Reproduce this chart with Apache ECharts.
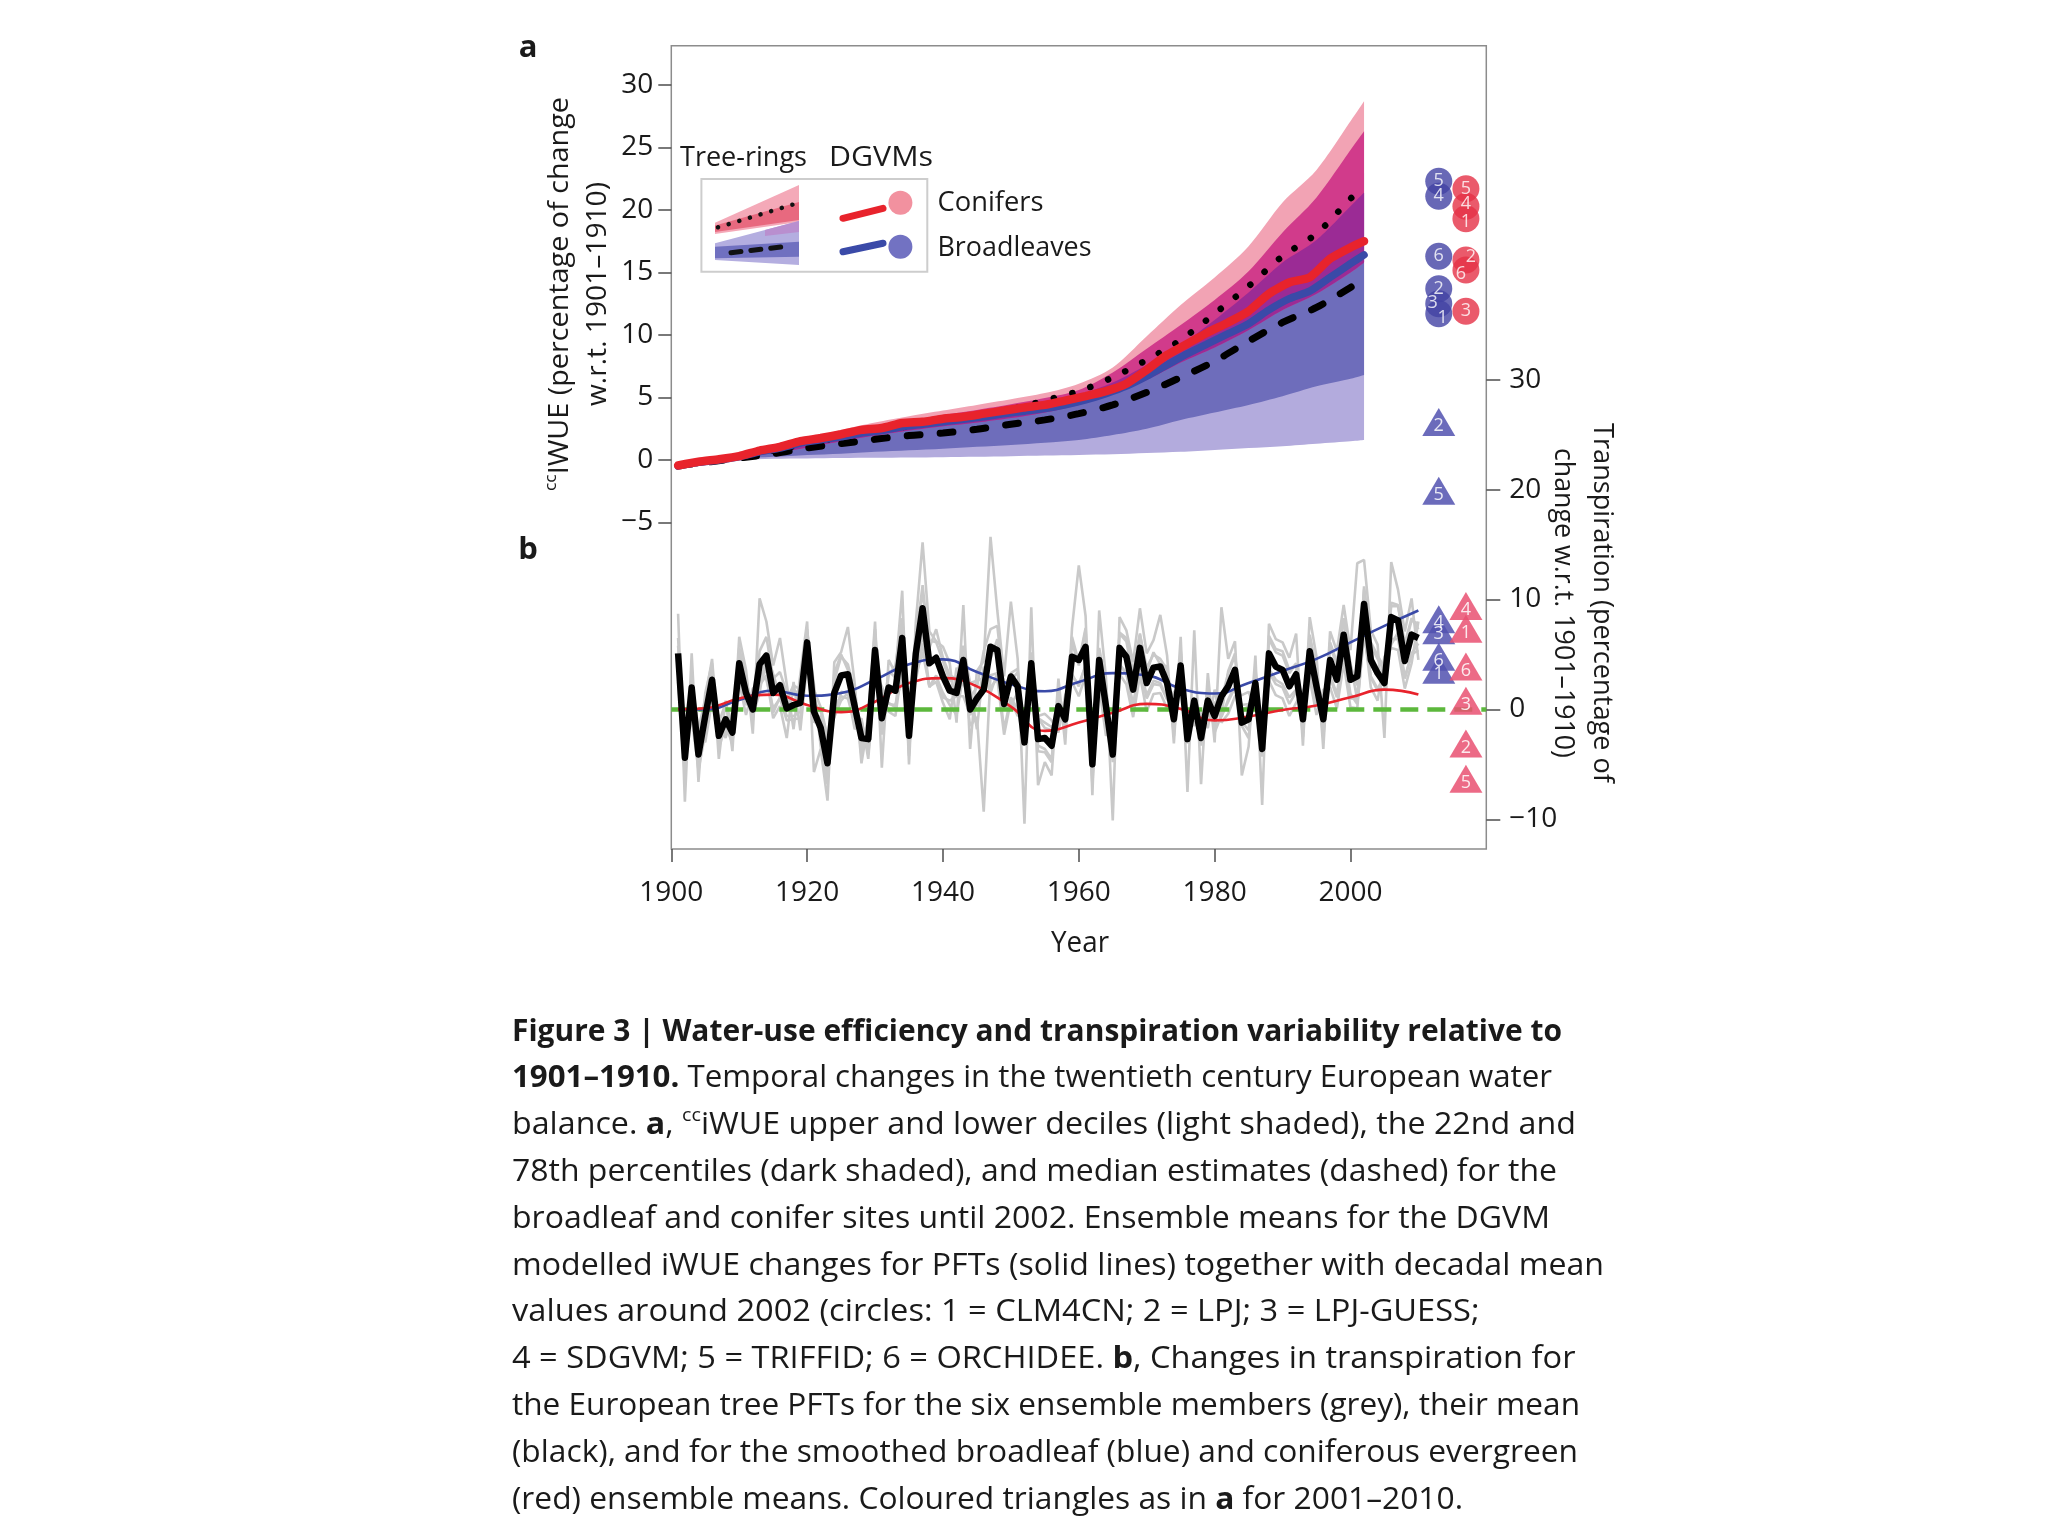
<!DOCTYPE html>
<html>
<head>
<meta charset="utf-8">
<title>Figure 3</title>
<script src="https://cdn.jsdelivr.net/npm/echarts@6.0.0/dist/echarts.min.js"></script>
<style>
html,body{margin:0;padding:0;background:#ffffff;}
#chart{width:2048px;height:1536px;}
</style>
</head>
<body>
<div id="chart"></div>
<script>
// ================= DATA =================
// Panel a: tree-ring ccIWUE percentiles (percentage change w.r.t. 1901-1910)
const bandYears  = [1901,1905,1910,1915,1920,1925,1930,1935,1940,1945,1950,1955,1960,1965,1970,1975,1980,1985,1990,1995,2000,2002];
const coniferP90 = [-0.45,-0.1,0.3,0.9,1.6,2.4,3.0,3.5,3.95,4.4,4.85,5.35,6.1,7.4,9.9,12.4,14.6,17.1,20.6,23.2,27.1,28.7];
const coniferP78 = [-0.45,-0.15,0.25,0.8,1.4,2.15,2.65,3.15,3.6,4.0,4.45,4.95,5.6,7.0,8.9,10.8,12.8,15.1,18.2,21.0,24.8,26.3];
const coniferP50 = [-0.45,-0.15,0.25,0.75,1.3,1.85,2.3,2.7,3.1,3.5,4.05,4.75,5.5,6.6,8.0,9.6,11.7,13.9,16.3,18.1,20.9,21.9];
const coniferP22 = [-0.45,-0.2,0.15,0.55,1.0,1.5,1.95,2.35,2.7,3.0,3.35,3.8,4.4,5.3,6.4,7.8,9.0,10.4,12.0,13.3,15.0,15.8];
const coniferP10 = [-0.45,-0.1,0.12,0.4,0.7,1.0,1.3,1.55,1.8,2.0,2.3,2.6,3.0,3.6,4.4,5.4,6.3,7.3,8.5,9.5,10.8,11.3];
const broadP90   = [-0.45,-0.16,0.22,0.75,1.3,1.8,2.25,2.7,3.1,3.5,3.95,4.5,5.2,6.3,7.9,9.6,11.5,13.7,16.2,18.5,21.9,23.0];
const broadP78   = [-0.45,-0.15,0.22,0.7,1.22,1.72,2.18,2.58,2.95,3.35,3.85,4.5,5.2,6.2,7.6,9.2,11.2,13.4,15.8,17.6,20.3,21.4];
const broadP50   = [-0.45,-0.2,0.15,0.5,0.95,1.3,1.65,1.95,2.15,2.45,2.85,3.2,3.7,4.4,5.4,6.6,7.9,9.5,11.0,12.2,13.8,14.5];
const broadP22   = [-0.45,-0.15,0.1,0.25,0.4,0.5,0.65,0.78,0.9,1.05,1.2,1.38,1.6,2.0,2.5,3.2,3.8,4.4,5.1,5.9,6.5,6.8];
const broadP10   = [-0.45,-0.2,0.0,0.1,0.12,0.15,0.17,0.2,0.22,0.25,0.3,0.35,0.4,0.45,0.55,0.65,0.8,0.95,1.1,1.3,1.5,1.6];

// Panel a: DGVM ensemble means
const dgvmYears   = [1901,1904,1907,1910,1913,1916,1919,1922,1925,1928,1931,1934,1937,1940,1943,1946,1949,1952,1955,1958,1961,1964,1967,1970,1973,1976,1979,1982,1985,1988,1991,1994,1997,2000,2002];
const dgvmConifer = [-0.45,-0.15,0.05,0.3,0.75,1.05,1.5,1.75,2.05,2.4,2.55,2.95,3.05,3.3,3.45,3.7,3.95,4.2,4.4,4.75,5.1,5.5,6.1,7.2,8.4,9.3,10.2,11.0,11.9,13.3,14.2,14.6,16.1,17.0,17.5];
const dgvmBroad   = [-0.5,-0.2,0.0,0.25,0.65,0.95,1.35,1.6,1.85,2.15,2.35,2.65,2.85,3.05,3.25,3.45,3.7,3.9,4.1,4.4,4.8,5.3,5.9,6.7,7.6,8.5,9.3,10.1,10.9,12.0,12.9,13.5,14.6,15.7,16.4];

// Panel a: decadal mean DGVM iWUE around 2002 (circles)
const circleBroadIds   = ['5','4','6','2','3','1'];
const circleBroad      = [22.3,21.1,16.3,13.7,12.5,11.7];
const circleConiferIds = ['5','4','1','2','6','3'];
const circleConifer    = [21.7,20.3,19.3,16.0,15.2,11.9];

// Panel b: transpiration (percentage change w.r.t. 1901-1910)
const transYears = Array.from({length: 110}, (_, i) => 1901 + i);
const transMean = [5.1,-4.4,2.0,-4.1,-0.6,2.7,-2.4,-0.9,-2.1,4.2,
  1.5,0.0,4.1,4.9,1.5,2.2,0.1,0.4,0.6,6.1,
  -0.2,-1.7,-4.9,1.5,3.1,3.2,0.3,-2.6,-2.7,5.4,
  -0.8,2.0,1.7,6.5,-2.4,5.1,9.2,4.2,4.7,3.0,
  1.7,1.5,4.5,0.0,1.0,1.8,5.7,5.4,0.5,3.0,
  2.1,-3.0,4.2,-2.7,-2.6,-3.3,0.3,-0.9,4.8,4.5,
  5.7,-5.0,4.5,0.3,-4.1,5.6,4.8,1.8,5.6,2.4,
  3.8,3.9,2.4,-0.9,4.0,-2.7,0.8,-2.6,0.8,-0.6,
  1.2,2.1,3.6,-1.2,-0.9,2.4,-3.6,5.1,3.9,3.6,
  2.1,3.2,-0.9,5.3,2.1,-0.9,4.5,2.7,6.8,2.7,
  3.0,9.6,4.5,3.3,2.4,8.4,8.1,4.4,6.8,6.5];
const member1 = [8.7,-8.4,5.1,-6.6,1.5,4.2,-4.5,0.8,-3.8,6.6,
  3.6,-2.2,10.1,8.0,4.0,6.5,2.3,-1.8,3.2,8.0,
  -5.7,-3.6,-8.3,4.3,5.2,7.5,2.4,-4.9,-1.1,8.0,
  -5.3,4.5,3.3,10.8,-5.0,7.9,15.2,7.1,6.2,5.7,
  4.2,-1.2,9.5,-3.6,3.5,4.4,15.7,9.0,3.0,9.8,
  4.6,-10.4,9.3,-6.9,-4.8,-6.0,2.8,-3.2,7.4,13.1,
  8.5,-7.8,9.0,2.9,-10.1,8.4,7.2,4.3,9.2,5.1,
  6.3,8.6,4.9,-3.1,6.6,-7.5,7.2,-6.8,3.3,-3.0,
  9.3,4.6,6.2,-6.0,-3.4,4.9,-8.7,7.8,6.4,6.1,
  4.7,6.9,-3.3,8.4,4.8,-3.6,7.1,5.3,9.5,5.4,
  13.3,13.6,7.2,5.9,-2.6,13.4,10.9,7.1,10.1,4.5];
const member2 = [3.2,-1.5,0.5,-2.0,-3.0,0.8,-0.6,-2.6,-0.2,2.5,
  -0.5,1.9,2.2,3.1,-0.8,0.3,-2.6,2.5,-1.9,4.2,
  1.8,0.2,-2.5,-0.7,1.6,1.5,-1.8,-0.8,-4.5,3.1,
  1.4,-0.2,-0.6,4.0,-0.2,2.6,6.0,2.1,2.5,0.6,
  -0.9,3.8,2.2,2.1,-1.8,3.9,2.0,2.8,-2.3,0.8,
  -0.6,-0.2,1.8,-0.6,-0.4,-1.0,-2.1,1.3,2.5,1.2,
  3.1,-2.3,2.1,-2.4,-1.3,3.2,2.3,-0.7,3.1,-0.2,
  1.4,1.5,0.1,1.6,1.9,-0.4,-1.5,-0.3,-1.7,1.8,
  -1.2,-0.4,1.2,1.3,1.6,0.0,-1.0,2.6,1.3,1.0,
  -0.6,0.6,1.7,2.8,-0.5,1.8,2.0,0.1,4.2,0.2,
  0.1,7.1,2.0,0.8,4.8,5.6,5.4,1.9,4.2,8.0];
const member3 = [6.5,-5.2,3.0,-4.8,0.4,3.9,-3.5,-1.5,-3.1,5.1,
  2.2,-1.0,5.3,6.6,2.8,3.4,1.5,1.3,1.9,7.3,
  0.9,-2.8,-6.1,2.6,4.8,4.1,1.7,-3.4,-2.0,6.7,
  -1.6,3.5,2.9,7.8,-3.9,6.3,11.3,5.6,7.3,4.7,
  3.1,2.8,5.1,1.1,2.0,5.3,7.3,7.6,1.9,3.3,
  3.7,-2.5,5.2,-3.3,-3.6,-4.5,1.4,-1.8,6.1,4.0,
  7.2,-6.4,5.3,1.5,-4.2,6.9,6.2,3.0,6.8,3.8,
  5.0,4.6,3.6,-1.8,5.2,-3.0,1.0,-3.3,2.0,-1.5,
  0.9,3.3,4.9,-1.1,-1.9,3.8,-4.1,6.4,5.2,4.9,
  3.3,4.2,-1.7,6.6,3.4,-1.9,5.8,4.0,8.1,4.0,
  2.2,10.9,5.8,4.6,3.5,9.4,9.4,5.7,8.1,7.8];
const member4 = [4.0,-3.0,-0.8,-5.5,-2.2,1.5,-1.2,0.6,-1.5,3.0,
  0.4,1.2,3.4,2.7,0.1,1.0,-1.0,-0.9,-0.8,5.0,
  -1.2,-0.6,-3.2,0.2,1.2,1.0,-1.3,-1.0,-3.9,4.0,
  0.9,0.6,0.2,5.2,-1.1,3.5,7.0,2.0,3.0,1.5,
  0.4,-0.5,3.2,-1.5,-0.7,-9.3,3.1,3.3,-1.8,1.1,
  0.0,-1.6,2.3,-0.8,-1.7,-1.9,-1.5,0.6,3.2,2.1,
  4.0,-3.7,2.4,-1.1,-2.5,4.1,3.3,0.5,3.8,1.0,
  2.3,2.2,0.9,0.5,2.4,-1.4,-1.2,-1.0,-0.6,0.7,
  -0.6,0.7,2.0,0.4,0.5,0.8,-2.1,3.4,2.3,2.0,
  0.5,1.6,0.4,3.6,0.5,0.7,2.9,1.1,5.1,1.0,
  1.0,8.0,2.9,1.7,1.9,6.4,6.4,2.8,5.0,5.4];
const member5 = [2.5,-6.0,2.6,-1.8,1.0,4.6,-2.9,-2.0,-2.5,5.6,
  2.9,-0.6,1.5,5.2,3.2,1.2,0.9,2.2,1.8,7.0,
  2.3,-3.4,-6.8,3.3,5.0,3.6,1.6,-4.2,-0.6,7.3,
  -2.3,3.1,4.0,8.3,-4.2,7.2,10.5,6.3,6.1,4.4,
  2.6,2.9,5.8,2.4,2.6,2.9,4.6,6.4,2.1,2.6,
  3.4,-2.1,4.4,-3.8,-3.9,-4.8,1.9,-2.4,6.6,4.3,
  7.4,-6.9,5.6,2.3,-4.8,7.0,6.5,3.4,6.9,3.4,
  5.2,4.1,3.9,-2.4,5.4,-3.1,0.5,-3.1,2.1,-2.1,
  -0.5,3.5,5.1,-1.5,-2.6,3.6,-4.3,6.7,5.5,5.3,
  3.6,4.1,-2.5,6.8,3.6,-2.6,6.1,4.3,8.3,4.2,
  0.9,11.2,6.1,4.9,3.8,9.7,9.5,6.0,8.3,7.3];
const member6 = [5.8,-2.4,1.4,-3.9,-1.3,1.2,-1.9,-0.7,-1.4,2.4,
  0.5,0.8,2.3,3.8,-0.3,1.1,-0.6,-0.6,-0.2,5.1,
  0.7,-0.2,-2.5,-0.7,0.8,1.5,-0.8,-1.3,-4.1,3.3,
  2.1,0.5,0.4,2.9,-0.4,3.1,5.2,2.1,3.1,1.1,
  0.8,1.2,1.2,-0.5,0.4,3.6,1.5,3.3,0.1,0.4,
  1.5,-1.2,2.2,-0.8,-1.2,-1.6,-0.7,0.1,3.0,2.3,
  4.0,-2.9,2.6,-1.4,-1.7,4.0,3.3,0.3,3.8,1.3,
  2.6,2.4,1.0,-0.2,2.5,-0.8,-1.2,-1.1,-0.3,0.5,
  -0.7,0.9,2.2,-0.3,0.4,1.3,-1.4,3.7,2.7,2.3,
  1.1,1.8,0.0,3.6,0.8,0.2,3.1,1.4,5.6,1.4,
  0.5,6.8,3.0,1.9,3.0,5.9,7.0,2.9,5.1,6.0];
const members = [member1, member2, member3, member4, member5, member6];

// Panel b: smoothed PFT ensemble means
const smoothYears    = [1901,1905,1910,1915,1920,1925,1930,1935,1940,1945,1950,1955,1960,1965,1970,1975,1980,1985,1990,1995,2000,2005,2010];
const broadSmooth    = [0.0,0.0,0.85,1.7,1.25,1.5,2.7,4.1,4.55,3.4,2.3,1.65,2.5,3.3,3.1,1.9,1.45,2.4,3.5,4.6,6.1,7.6,9.0];
const coniferSmooth  = [0.0,0.1,1.0,1.35,0.4,-0.25,0.7,2.4,2.85,2.1,0.25,-1.95,-1.2,-0.3,0.5,0.05,-1.0,-0.65,-0.05,0.35,1.1,1.8,1.35];

// Panel b: decadal mean transpiration 2001-2010 (triangles)
const triBroadIds   = ['2','5','4','3','6','1'];
const triBroad      = [26.15,19.9,8.2,7.2,4.8,3.6];
const triConiferIds = ['4','1','6','3','2','5'];
const triConifer    = [9.4,7.35,3.9,0.8,-3.1,-6.3];

// Axis ticks
const xTicks = [1900,1920,1940,1960,1980,2000];
const leftTicks = [-5,0,5,10,15,20,25,30];
const rightTicks = [-10,0,10,20,30];

// Caption text
const captionLines = [
  [{t:'Figure 3 | Water-use efficiency and transpiration variability relative to', b:1}],
  [{t:'1901\u20131910.', b:1}, {t:' Temporal changes in the twentieth century European water'}],
  [{t:'balance. '}, {t:'a', b:1}, {t:', '}, {t:'cc', s:1}, {t:'iWUE upper and lower deciles (light shaded), the 22nd and'}],
  [{t:'78th percentiles (dark shaded), and median estimates (dashed) for the'}],
  [{t:'broadleaf and conifer sites until 2002. Ensemble means for the DGVM'}],
  [{t:'modelled iWUE changes for PFTs (solid lines) together with decadal mean'}],
  [{t:'values around 2002 (circles: 1 = CLM4CN; 2 = LPJ; 3 = LPJ-GUESS;'}],
  [{t:'4 = SDGVM; 5 = TRIFFID; 6 = ORCHIDEE. '}, {t:'b', b:1}, {t:', Changes in transpiration for'}],
  [{t:'the European tree PFTs for the six ensemble members (grey), their mean'}],
  [{t:'(black), and for the smoothed broadleaf (blue) and coniferous evergreen'}],
  [{t:'(red) ensemble means. Coloured triangles as in '}, {t:'a', b:1}, {t:' for 2001\u20132010.'}]
];

// ================= LAYOUT / STYLE =================
const FAM = '"Open Sans", "Noto Sans", "DejaVu Sans", sans-serif';
const TXT = '#1a1a1a';
const GRID = {left: 671.3, top: 45.7, right: 1486.3, bottom: 849};
const captionWidths = [1050, 1040, 1064, 1045, 1038, 1092, 1055, 1081, 1068, 1066, 951];
const MARK_X = {broad: 2013, conifer: 2017};
const labelNudge = {'c2':[5,-3], 'c6':[-5,4], 'b3':[-6,-1], 'b1':[4,4], 'c4':[0,-2], 'c1':[0,3]};

const mctx = document.createElement('canvas').getContext('2d');
function segFont(s, size) { return (s.b ? 'bold ' : '') + (s.s ? Math.round(size * 0.62) : size) + 'px ' + FAM; }
function naturalWidth(segs, size) {
  let w = 0;
  segs.forEach(s => { mctx.font = segFont(s, size); w += mctx.measureText(s.t).width; });
  return w;
}
function richText(segs) { return segs.map(s => '{' + (s.b ? 'b' : (s.s ? 's' : 'n')) + '|' + s.t + '}').join(''); }
function textEl(segs, o) {
  const size = o.size;
  const sx = o.scale || (o.width ? o.width / naturalWidth(segs, size) : 1);
  const lh = Math.round(size * 1.25);
  const al = o.align || 'left';
  return {
    type: 'text', x: o.x, y: o.y, rotation: o.rot || 0, scaleX: sx, scaleY: 1, z: 100, silent: true,
    style: {
      text: richText(segs), align: al, verticalAlign: 'middle', textAlign: al, textVerticalAlign: 'middle',
      fill: TXT, font: size + 'px ' + FAM,
      rich: {
        n: {fontSize: size, fontFamily: FAM, fill: TXT, color: TXT, lineHeight: lh},
        b: {fontSize: size, fontFamily: FAM, fontWeight: 'bold', fill: TXT, color: TXT, lineHeight: lh},
        s: {fontSize: Math.round(size * 0.62), fontFamily: FAM, fill: TXT, color: TXT, lineHeight: Math.round(size * 0.7), verticalAlign: 'top'}
      }
    }
  };
}

const pair = (xs, ys) => xs.map((x, i) => [x, ys[i]]);
const fmtNum = v => (v < 0 ? '\u2212' + Math.abs(v) : String(v));

// Catmull-Rom style cubic path through pixel points (drawing only)
function curveThrough(pts, k) {
  let d = '';
  for (let i = 0; i < pts.length - 1; i++) {
    const p0 = pts[Math.max(i - 1, 0)], p1 = pts[i], p2 = pts[i + 1], p3 = pts[Math.min(i + 2, pts.length - 1)];
    const c1 = [p1[0] + (p2[0] - p0[0]) / 6 * k, p1[1] + (p2[1] - p0[1]) / 6 * k];
    const c2 = [p2[0] - (p3[0] - p1[0]) / 6 * k, p2[1] - (p3[1] - p1[1]) / 6 * k];
    d += ' C' + c1[0].toFixed(2) + ' ' + c1[1].toFixed(2) + ' ' + c2[0].toFixed(2) + ' ' + c2[1].toFixed(2) + ' ' + p2[0].toFixed(2) + ' ' + p2[1].toFixed(2);
  }
  return d;
}
function bandSeries(id, lower, upper, color) {
  return {
    type: 'custom', name: id, xAxisIndex: 0, yAxisIndex: 0, silent: true, z: 1,
    data: [[bandYears[0], lower[0]]],
    renderItem: function (params, api) {
      const up = bandYears.map((y, i) => api.coord([y, upper[i]]));
      const lo = bandYears.map((y, i) => api.coord([y, lower[i]])).reverse();
      const d = 'M' + up[0][0] + ' ' + up[0][1] + curveThrough(up, 0.9) +
        ' L' + lo[0][0] + ' ' + lo[0][1] + curveThrough(lo, 0.9) + ' Z';
      return {type: 'path', shape: {pathData: d}, style: {fill: color, lineWidth: 0}};
    }
  };
}
const overlapLow = broadP22.map((v, i) => Math.max(v, coniferP22[i]));
const overlapHigh = broadP78.map((v, i) => Math.min(v, coniferP78[i]));

function markerSeries(ids, vals, x, key, symbol, size, color, opacity, lblOffset) {
  return {
    type: 'scatter', xAxisIndex: 0, yAxisIndex: key.axis, symbol: symbol, symbolSize: size, silent: true,
    itemStyle: {color: color, opacity: opacity},
    label: {show: true, position: 'inside', formatter: '{b}', color: '#ffffff', fontSize: 18, fontFamily: FAM, offset: lblOffset},
    data: vals.map((v, i) => {
      const nud = labelNudge[key.p + ids[i]];
      const item = {name: ids[i], value: [x, v]};
      if (nud && key.axis === 0) item.label = {offset: nud};
      return item;
    }),
    z: 5
  };
}

const series = [
  bandSeries('broadLight', broadP10, broadP90, '#b3abdd'),
  bandSeries('coniferLight', coniferP10, coniferP90, '#f2a3b4'),
  bandSeries('broadDark', broadP22, broadP78, '#6e6dbb'),
  bandSeries('coniferDark', coniferP22, coniferP78, '#d13b8b'),
  bandSeries('overlap', overlapLow, overlapHigh, '#9b2b95'),
  {type: 'line', name: 'conifer median', yAxisIndex: 0, data: pair(bandYears, coniferP50), symbol: 'none', smooth: 0.3, silent: true,
    lineStyle: {color: '#000', width: 6.5, type: [0.1, 19], cap: 'round'}, z: 3},
  {type: 'line', name: 'broadleaf median', yAxisIndex: 0, data: pair(bandYears, broadP50), symbol: 'none', smooth: 0.3, silent: true,
    lineStyle: {color: '#000', width: 7, type: [13, 20], cap: 'round'}, z: 3},
  {type: 'line', name: 'DGVM broadleaf', yAxisIndex: 0, data: pair(dgvmYears, dgvmBroad), symbol: 'none', smooth: 0.2, silent: true,
    lineStyle: {color: '#3a4aa8', width: 7.5, cap: 'round'}, z: 3},
  {type: 'line', name: 'DGVM conifer', yAxisIndex: 0, data: pair(dgvmYears, dgvmConifer), symbol: 'none', smooth: 0.2, silent: true,
    lineStyle: {color: '#e8232c', width: 8.5, cap: 'round'}, z: 3},
  markerSeries(circleBroadIds, circleBroad, MARK_X.broad, {axis: 0, p: 'b'}, 'circle', 27, 'rgb(66,66,164)', 0.8, [0, 0]),
  markerSeries(circleConiferIds, circleConifer, MARK_X.conifer, {axis: 0, p: 'c'}, 'circle', 27, 'rgb(229,49,70)', 0.8, [0, 0])
].concat(
  members.map((m, k) => ({type: 'line', name: 'member ' + (k + 1), yAxisIndex: 1, data: pair(transYears, m), symbol: 'none', silent: true,
    lineStyle: {color: '#c9c9c9', width: 2.6}, z: 2})),
  [
    {type: 'line', name: 'zero', yAxisIndex: 1, data: [[1900, 0], [2020, 0]], symbol: 'none', silent: true,
      lineStyle: {color: '#5cb83c', width: 4.5, type: [18, 9]}, z: 3},
    {type: 'line', name: 'broadleaf smooth', yAxisIndex: 1, data: pair(smoothYears, broadSmooth), symbol: 'none', smooth: 0.5, silent: true,
      lineStyle: {color: '#3a4aa8', width: 2.6}, z: 3},
    {type: 'line', name: 'conifer smooth', yAxisIndex: 1, data: pair(smoothYears, coniferSmooth), symbol: 'none', smooth: 0.5, silent: true,
      lineStyle: {color: '#e8232c', width: 2.6}, z: 3},
    {type: 'line', name: 'ensemble mean', yAxisIndex: 1, data: pair(transYears, transMean), symbol: 'none', silent: true,
      lineStyle: {color: '#000000', width: 6.5, join: 'round'}, z: 4},
    markerSeries(triBroadIds, triBroad, MARK_X.broad, {axis: 1, p: 'B'}, 'triangle', [33, 28], 'rgb(81,81,175)', 0.85, [0, 4]),
    markerSeries(triConiferIds, triConifer, MARK_X.conifer, {axis: 1, p: 'C'}, 'triangle', [33, 28], 'rgb(233,80,113)', 0.85, [0, 4])
  ]
);

// ---------- graphic elements (labels, titles, legend, caption) ----------
const S = 28;
const graphics = [];
graphics.push(textEl([{t:'a', b:1}], {x: 528, y: 48, size: 31, align: 'center'}));
graphics.push(textEl([{t:'b', b:1}], {x: 528, y: 550, size: 31, align: 'center'}));
graphics.push(textEl([{t:'cc', s:1}, {t:'IWUE (percentage of change'}], {x: 560, y: 294, size: 28, align: 'center', rot: Math.PI / 2, width: 394}));
graphics.push(textEl([{t:'w.r.t. 1901\u20131910)'}], {x: 598, y: 294, size: 28, align: 'center', rot: Math.PI / 2, width: 224}));
graphics.push(textEl([{t:'Transpiration (percentage of'}], {x: 1601.5, y: 603, size: 28, align: 'center', rot: -Math.PI / 2, width: 360}));
graphics.push(textEl([{t:'change w.r.t. 1901\u20131910)'}], {x: 1563, y: 603, size: 28, align: 'center', rot: -Math.PI / 2, width: 310}));
graphics.push(textEl([{t:'Year'}], {x: 1080, y: 944, size: 29, align: 'center', width: 58}));

// legend
graphics.push({type: 'rect', z: 90, silent: true, shape: {x: 701.4, y: 178.9, width: 225.9, height: 92.8},
  style: {fill: '#ffffff', stroke: '#cdcdcd', lineWidth: 2}});
graphics.push({type: 'polygon', z: 91, silent: true, shape: {points: [[715, 222.7], [799, 185], [799, 222], [715, 234]]}, style: {fill: '#f4a9b8'}});
graphics.push({type: 'polygon', z: 91, silent: true, shape: {points: [[715, 225.5], [799, 202], [799, 220], [715, 232]]}, style: {fill: '#e8697f'}});
graphics.push({type: 'polygon', z: 91, silent: true, shape: {points: [[715, 243.3], [799, 221], [799, 265], [715, 260]]}, style: {fill: '#b4aee0'}});
graphics.push({type: 'polygon', z: 91, silent: true, shape: {points: [[765, 230], [799, 221], [799, 232], [765, 236]]}, style: {fill: '#b98fcf'}});
graphics.push({type: 'polygon', z: 91, silent: true, shape: {points: [[715, 246.7], [799, 241.7], [799, 256.7], [715, 258.3]]}, style: {fill: '#7070c0'}});
graphics.push({type: 'line', z: 92, silent: true, shape: {x1: 718, y1: 227.3, x2: 799, y2: 202.7},
  style: {stroke: '#111', lineWidth: 4.5, lineDash: [0.1, 11], lineCap: 'round'}});
graphics.push({type: 'line', z: 92, silent: true, shape: {x1: 731, y1: 252.7, x2: 786, y2: 246.5},
  style: {stroke: '#111', lineWidth: 5, lineDash: [10, 10], lineCap: 'round'}});
graphics.push({type: 'line', z: 92, silent: true, shape: {x1: 843, y1: 218.3, x2: 883, y2: 208.3},
  style: {stroke: '#e8232c', lineWidth: 7, lineCap: 'round'}});
graphics.push({type: 'circle', z: 92, silent: true, shape: {cx: 900.4, cy: 202.7, r: 12}, style: {fill: '#f2919f'}});
graphics.push({type: 'line', z: 92, silent: true, shape: {x1: 843, y1: 251.7, x2: 883, y2: 243.3},
  style: {stroke: '#3a4aa8', lineWidth: 7, lineCap: 'round'}});
graphics.push({type: 'circle', z: 92, silent: true, shape: {cx: 900.4, cy: 246.7, r: 12}, style: {fill: '#7272c2'}});
graphics.push(textEl([{t:'Tree-rings'}], {x: 680, y: 158.5, size: S, width: 127}));
graphics.push(textEl([{t:'DGVMs'}], {x: 829, y: 158.5, size: S, width: 104}));
graphics.push(textEl([{t:'Conifers'}], {x: 937.5, y: 203.5, size: S, width: 106}));
graphics.push(textEl([{t:'Broadleaves'}], {x: 937.5, y: 248.5, size: S, width: 154}));

// caption: each line compressed to its measured width, never stretched beyond the typical compression
const CAP_SIZE = 31;
const capScales = captionLines.map((segs, k) => captionWidths[k] / naturalWidth(segs, CAP_SIZE));
const capSorted = capScales.slice().sort((a, b) => a - b);
const capMedian = capSorted[Math.floor(capSorted.length / 2)];
captionLines.forEach((segs, k) => {
  const sc = Math.min(capScales[k], capMedian * 1.02);
  graphics.push(textEl(segs, {x: 512, y: 1031.7 + 46.8 * k, size: CAP_SIZE, scale: sc}));
});

const tickStyle = {color: '#4d4d4d', width: 1.5};
const labelStyle = {fontSize: 28, fontFamily: FAM, color: TXT};

const option = {
  animation: false,
  backgroundColor: '#ffffff',
  grid: {left: GRID.left, top: GRID.top, width: GRID.right - GRID.left, height: GRID.bottom - GRID.top,
    show: true, borderColor: '#8c8c8c', borderWidth: 1.5, backgroundColor: 'transparent', containLabel: false, outerBoundsMode: 'none'},
  xAxis: {type: 'value', min: 1900, max: 2020, position: 'bottom',
    axisLine: {show: false, onZero: false}, splitLine: {show: false},
    axisTick: {show: true, inside: false, length: 13, customValues: xTicks, lineStyle: tickStyle},
    axisLabel: Object.assign({show: true, customValues: xTicks, margin: 30, formatter: v => String(v)}, labelStyle)},
  yAxis: [
    {type: 'value', position: 'left', min: -31.13, max: 33.14,
      axisLine: {show: false, onZero: false}, splitLine: {show: false},
      axisTick: {show: true, inside: false, length: 13, customValues: leftTicks, lineStyle: tickStyle},
      axisLabel: Object.assign({show: true, customValues: leftTicks, margin: 18, formatter: fmtNum}, labelStyle)},
    {type: 'value', position: 'right', min: -12.70, max: 60.39,
      axisLine: {show: false, onZero: false}, splitLine: {show: false},
      axisTick: {show: true, inside: false, length: 14, customValues: rightTicks, lineStyle: tickStyle},
      axisLabel: Object.assign({show: true, customValues: rightTicks, margin: 23, formatter: fmtNum}, labelStyle)}
  ],
  series: series,
  graphic: {elements: graphics}
};

const chart = echarts.init(document.getElementById('chart'), null, {renderer: 'canvas', width: 2048, height: 1536});
chart.setOption(option);
</script>
</body>
</html>
